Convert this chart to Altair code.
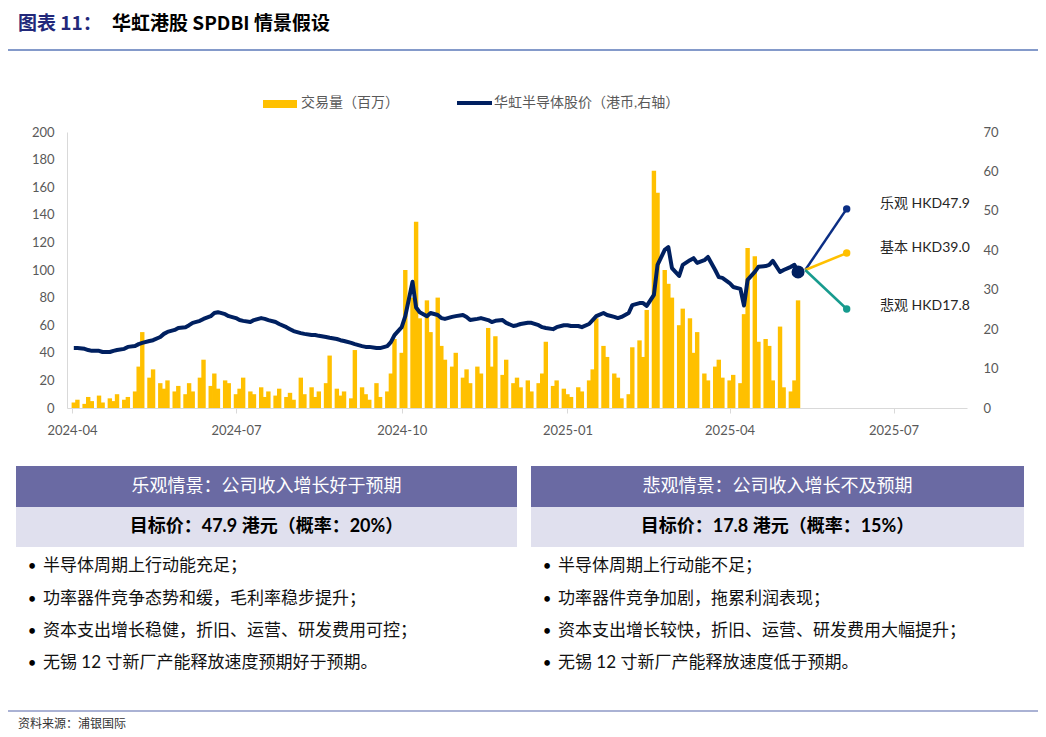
import altair as alt
import pandas as pd

# ---------------- data ----------------
# trading volume (millions), one value every two business days from 2024-04-02
vol = [
    4, 6, 3, 8, 5, 9, 4, 7, 5, 10,
    6, 8, 12, 30, 55, 22, 28, 18, 14, 20,
    12, 16, 10, 18, 12, 22, 35, 16, 25, 14,
    20, 18, 10, 14, 22, 12, 10, 15, 8, 12,
    9, 14, 8, 11, 6, 22, 10, 15, 8, 12,
    18, 38, 14, 9, 12, 7, 42, 15, 10, 6,
    18, 8, 12, 25, 50, 40, 100, 80, 135, 65,
    78, 55, 80, 45, 35, 30, 40, 22, 28, 18,
    30, 25, 58, 30, 52, 24, 35, 18, 22, 15,
    20, 12, 18, 25, 48, 16, 20, 14, 10, 8,
    15, 12, 20, 28, 65, 45, 37, 25, 22, 7,
    10, 44, 49, 37, 71, 172, 156, 100, 90, 80,
    60, 72, 65, 40, 55, 25, 20, 30, 35, 22,
    20, 24, 18, 68, 116, 110, 48, 50, 45, 20,
    59, 15, 12, 20, 78,
]
# share price (HKD, right axis)
price = [
    15.2, 15.2, 15.0, 14.7, 14.5, 14.5, 14.2, 14.2, 14.5, 14.7,
    15.0, 15.5, 15.7, 16.2, 16.5, 17.0, 17.2, 18.0, 18.8, 19.3,
    19.8, 20.3, 20.5, 21.0, 21.6, 22.1, 22.6, 23.3, 24.1, 24.3,
    23.8, 23.3, 22.8, 22.3, 22.1, 21.8, 22.3, 22.8, 22.6, 22.3,
    21.8, 21.3, 20.5, 20.0, 19.5, 19.0, 18.8, 18.5, 18.5, 18.3,
    18.0, 17.8, 17.5, 17.2, 17.0, 16.5, 16.2, 15.7, 15.5, 15.5,
    15.2, 15.2, 15.7, 16.7, 18.5, 20.5, 23.3, 32.0, 25.5, 24.3,
    23.3, 24.1, 23.6, 22.8, 22.6, 23.1, 23.3, 23.6, 23.1, 22.3,
    22.6, 22.8, 22.3, 21.8, 22.1, 22.3, 21.6, 20.8, 21.0, 21.3,
    21.6, 21.6, 21.0, 20.5, 20.3, 20.0, 20.5, 21.0, 21.0, 20.8,
    20.8, 20.5, 21.3, 22.3, 23.3, 24.1, 23.6, 23.1, 22.8, 23.1,
    24.1, 26.1, 26.6, 26.6, 25.9, 28.7, 36.3, 40.1, 40.8, 35.5,
    33.5, 36.3, 37.5, 38.0, 36.8, 37.5, 38.3, 35.0, 33.2, 33.0,
    31.7, 30.7, 30.2, 26.0, 32.5, 34.5, 35.8, 36.0, 36.3, 37.3,
    34.5, 35.0, 35.8, 36.3, 34.5,
]
dates = pd.date_range("2024-04-02", periods=len(vol), freq="2B")

sc_names = ["乐观", "基本", "悲观"]
sc_colors = ["#0B2E84", "#FFC000", "#179B8E"]
sc_start = pd.Timestamp("2025-05-13")
sc_end = pd.Timestamp("2025-06-05")
sc_start_price = 35.0
sc_end_price = [50.5, 39.3, 25.1]
sc_labels = ["乐观 HKD47.9", "基本 HKD39.0", "悲观 HKD17.8"]

tick_months = [(2024, 4), (2024, 7), (2024, 10), (2025, 1), (2025, 4), (2025, 7)]

title_a = "图表 11："
title_b = "华虹港股 SPDBI 情景假设"
legend_vol = "交易量（百万）"
legend_px = "华虹半导体股价（港币,右轴）"
box_titles = ["乐观情景：公司收入增长好于预期", "悲观情景：公司收入增长不及预期"]
box_targets = ["目标价：47.9 港元（概率：20%）", "目标价：17.8 港元（概率：15%）"]
bullets_left = [
    "半导体周期上行动能充足；",
    "功率器件竞争态势和缓，毛利率稳步提升；",
    "资本支出增长稳健，折旧、运营、研发费用可控；",
    "无锡 12 寸新厂产能释放速度预期好于预期。",
]
bullets_right = [
    "半导体周期上行动能不足；",
    "功率器件竞争加剧，拖累利润表现；",
    "资本支出增长较快，折旧、运营、研发费用大幅提升；",
    "无锡 12 寸新厂产能释放速度低于预期。",
]
source = "资料来源：浦银国际"

# ---------------- tables ----------------
df = pd.DataFrame({"date": dates, "vol": vol, "price": price})
sc_rows = []
for n, p in zip(sc_names, sc_end_price):
    sc_rows.append({"date": sc_start, "price": sc_start_price, "s": n})
    sc_rows.append({"date": sc_end, "price": p, "s": n})
sc_df = pd.DataFrame(sc_rows)
sc_end_df = sc_df[sc_df["date"] == sc_end]

LAT = "Lato, 'Noto Sans CJK SC'"
CJK = "'Noto Sans CJK SC'"

xdef = alt.X(
    "date:T",
    title=None,
    scale=alt.Scale(domain=[alt.DateTime(year=2024, month=4, date=1),
                            alt.DateTime(year=2025, month=8, date=8)], nice=False),
    axis=alt.Axis(values=[alt.DateTime(year=y, month=m, date=1) for y, m in tick_months],
                  format="%Y-%m", labelFont="Lato", labelFontSize=13, labelColor="#595959",
                  domainColor="#D9D9D9", tickColor="#D9D9D9", tickSize=5, labelPadding=11,
                  grid=False, labelFlush=False, labelOverlap=False),
)
yvol = alt.Y("vol:Q", title=None,
             scale=alt.Scale(domain=[0, 200], nice=False),
             axis=alt.Axis(values=list(range(0, 201, 20)), orient="left", labelFont="Lato",
                           labelFontSize=13, labelColor="#595959", domainColor="#D9D9D9",
                           ticks=False, tickSize=0, labelPadding=13, grid=False))
ypx = alt.Y("price:Q", title=None,
            scale=alt.Scale(domain=[0, 70], nice=False),
            axis=alt.Axis(values=list(range(0, 71, 10)), orient="right", labelFont="Lato",
                          labelFontSize=13, labelColor="#595959", domain=False,
                          ticks=False, tickSize=0, labelPadding=16, grid=False))
cenc = alt.Color("s:N", scale=alt.Scale(domain=sc_names, range=sc_colors), legend=None)

bars = alt.Chart(df).mark_bar(size=4.4, color="#FFC000").encode(x=xdef, y=yvol)
pline = alt.Chart(df).mark_line(color="#002060", strokeWidth=4, strokeJoin="round").encode(x=xdef, y=ypx)
blob = alt.Chart(df.tail(1)).mark_circle(size=170, color="#002060", opacity=1).encode(x=xdef, y=ypx)
sclines = alt.Chart(sc_df).mark_line(strokeWidth=2.5).encode(x=xdef, y=ypx, color=cenc)
scdots = alt.Chart(sc_end_df).mark_circle(size=55, opacity=1).encode(x=xdef, y=ypx, color=cenc)
inner = alt.layer(pline, blob, sclines, scdots)

one = pd.DataFrame({"k": [0]})


def txt(s, x, y, size, color="#000000", weight="normal", align="left", font=CJK):
    return alt.Chart(one).mark_text(fontSize=size, color=color, fontWeight=weight, align=align,
                                    baseline="middle", font=font).encode(
        x=alt.value(x), y=alt.value(y), text=alt.value(s))


def rect(x1, x2, y1, y2, color):
    return alt.Chart(one).mark_rect(color=color).encode(
        x=alt.value(x1), x2=alt.value(x2), y=alt.value(y1), y2=alt.value(y2))


def hrule(x1, x2, y, color, w):
    return alt.Chart(one).mark_rule(color=color, strokeWidth=w).encode(
        x=alt.value(x1), x2=alt.value(x2), y=alt.value(y))


OX, OY = 67, 132  # page position of plot origin
decor = []
# title + rules
decor.append(txt(title_a, 18 - OX, 24 - OY, 19, "#22287A", "bold"))
decor.append(txt(title_b, 112 - OX, 24 - OY, 19, "#000000", "bold"))
decor.append(hrule(5 - OX, 1040 - OX, 50 - OY, "#5B79B8", 1.5))
# legend
decor.append(rect(263 - OX, 297 - OX, 100 - OY, 108 - OY, "#FFC000"))
decor.append(txt(legend_vol, 301 - OX, 103 - OY, 14, "#595959"))
decor.append(hrule(457 - OX, 492 - OX, 103 - OY, "#002060", 4))
decor.append(txt(legend_px, 494 - OX, 103 - OY, 14, "#595959", font=LAT))
# scenario labels
for lab, yy in zip(sc_labels, [204, 248, 306]):
    decor.append(txt(lab, 880 - OX, yy - OY, 14, "#262626", font=LAT))
# boxes
boxes = [(16, 517), (531, 1024)]
for (bx1, bx2), t1, t2 in zip(boxes, box_titles, box_targets):
    decor.append(rect(bx1 - OX, bx2 - OX, 466 - OY, 507 - OY, "#6A6AA3"))
    decor.append(rect(bx1 - OX, bx2 - OX, 507 - OY, 547 - OY, "#E0E0EE"))
    cx = (bx1 + bx2) / 2 - OX
    decor.append(txt(t1, cx, 487 - OY, 18, "#FFFFFF", align="center"))
    decor.append(txt(t2, cx, 527 - OY, 18, "#000000", "bold", align="center", font=LAT))
# bullets
line_y = [566, 599, 631, 663]
for items, bx in [(bullets_left, 32), (bullets_right, 547)]:
    for s, yy in zip(items, line_y):
        decor.append(txt("•", bx - OX, yy - OY, 15, "#000000", align="center", font="Lato"))
        decor.append(txt(s, bx + 11 - OX, yy - OY, 17, "#111111", font=LAT))
# footer
decor.append(hrule(5 - OX, 1040 - OX, 711 - OY, "#8E98C6", 1.5))
decor.append(txt(source, 18 - OX, 724 - OY, 12, "#333333"))

chart = alt.layer(bars, inner, *decor).resolve_scale(y="independent").properties(
    width=900, height=276,
    autosize=alt.AutoSizeParams(type="none"),
    padding={"left": 59, "top": 124, "right": 71, "bottom": 325},
    background="white",
).configure_view(stroke="transparent")

chart.save("out.html", embed_options={"renderer": "svg", "actions": False})
